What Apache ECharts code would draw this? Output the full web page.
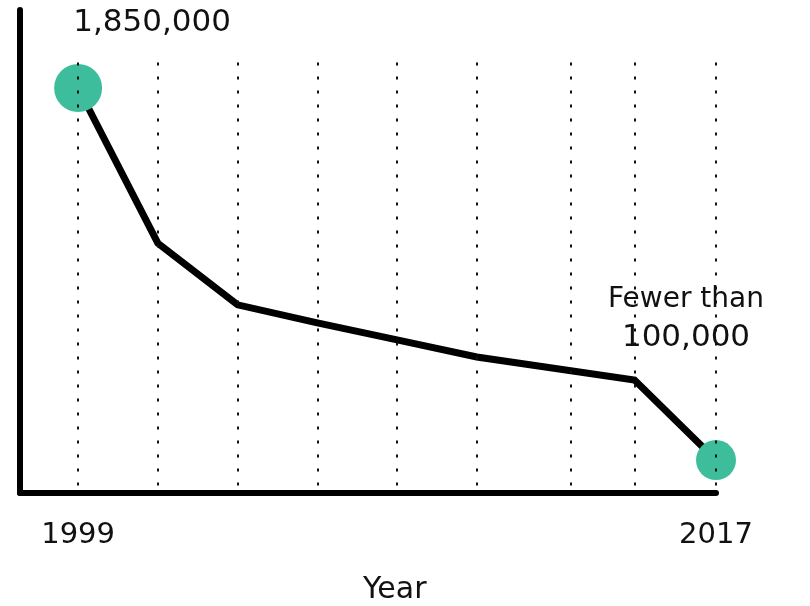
<!DOCTYPE html>
<html>
<head>
<meta charset="utf-8">
<script src="https://cdn.jsdelivr.net/npm/echarts@6/dist/echarts.min.js"></script>
<style>
  html, body { margin: 0; padding: 0; background: #fff; }
  #chart { width: 810px; height: 606px; }
</style>
</head>
<body>
<div id="chart"></div>
<script>
// Years of each reading and the number recorded
var years = [1999, 2001.25, 2003.5, 2005.75, 2008, 2010.25, 2014.7, 2017];
var counts = [1850000, 1120000, 830000, 745000, 665000, 585000, 476000, 100000];
// Vertical guide lines
var gridYears = [1999, 2001.25, 2003.5, 2005.75, 2008, 2010.25, 2012.9, 2014.7, 2017];
// Tick labels shown under the axis
var tickYears = [1999, 2017];
// Text attached to the first and last readings
var pointLabels = ['{n|1,850,000}', '', '', '', '', '', '', '{w|Fewer than}\n{n|100,000}'];

var FONT = 'DejaVu Sans';
var GREEN = '#3EBD9C';

var chart = echarts.init(document.getElementById('chart'), null, { renderer: 'canvas' });

var labelRich = {
  n: { fontFamily: FONT, fontSize: 31, color: '#111', lineHeight: 38, align: 'center' },
  w: { fontFamily: FONT, fontSize: 28, color: '#111', lineHeight: 38, align: 'center' }
};

var lineData = years.map(function (y, i) {
  var item = { value: [y, counts[i]] };
  var last = i === years.length - 1;
  if (i === 0 || last) {
    item.symbol = 'circle';
    item.symbolSize = i === 0 ? 48 : 40;
    item.label = {
      show: true,
      formatter: pointLabels[i],
      position: 'inside',
      offset: i === 0 ? [74, -65] : [-30, -141],
      align: 'center',
      rich: labelRich
    };
  } else {
    item.symbol = 'none';
  }
  return item;
});

var guideData = gridYears.map(function (y) {
  return [{ coord: [y, 1970000] }, { coord: [y, -55000] }];
});

chart.setOption({
  animation: false,
  backgroundColor: '#fff',
  title: {
    text: 'Year',
    left: 358,
    top: 570,
    textStyle: { fontFamily: FONT, fontSize: 30, fontWeight: 'normal', color: '#111' }
  },
  grid: { left: 20, right: 94, top: 10, bottom: 113, containLabel: false },
  xAxis: {
    type: 'value',
    min: 1997.36,
    max: 2017,
    axisLine: { show: true, onZero: false, lineStyle: { color: '#000', width: 6 } },
    axisTick: { show: false },
    splitLine: { show: false },
    axisLabel: {
      show: true,
      customValues: tickYears,
      formatter: function (v) { return String(Math.round(v)); },
      margin: 28,
      color: '#111',
      fontFamily: FONT,
      fontSize: 29
    }
  },
  yAxis: {
    type: 'value',
    min: -55000,
    max: 2217000,
    axisLine: { show: true, onZero: false, lineStyle: { color: '#000', width: 6 } },
    axisTick: { show: false },
    axisLabel: { show: false },
    splitLine: { show: false }
  },
  series: [
    {
      type: 'line',
      data: lineData,
      z: 2,
      lineStyle: { color: '#000', width: 7, join: 'miter' },
      itemStyle: { color: GREEN, borderWidth: 0 },
      emphasis: { disabled: true },
      silent: true
    },
    {
      type: 'line',
      data: [],
      z: 5,
      silent: true,
      markLine: {
        silent: true,
        symbol: ['none', 'none'],
        label: { show: false },
        lineStyle: { color: '#111', width: 2, type: [3, 11] },
        data: guideData
      }
    }
  ]
});
</script>
</body>
</html>
